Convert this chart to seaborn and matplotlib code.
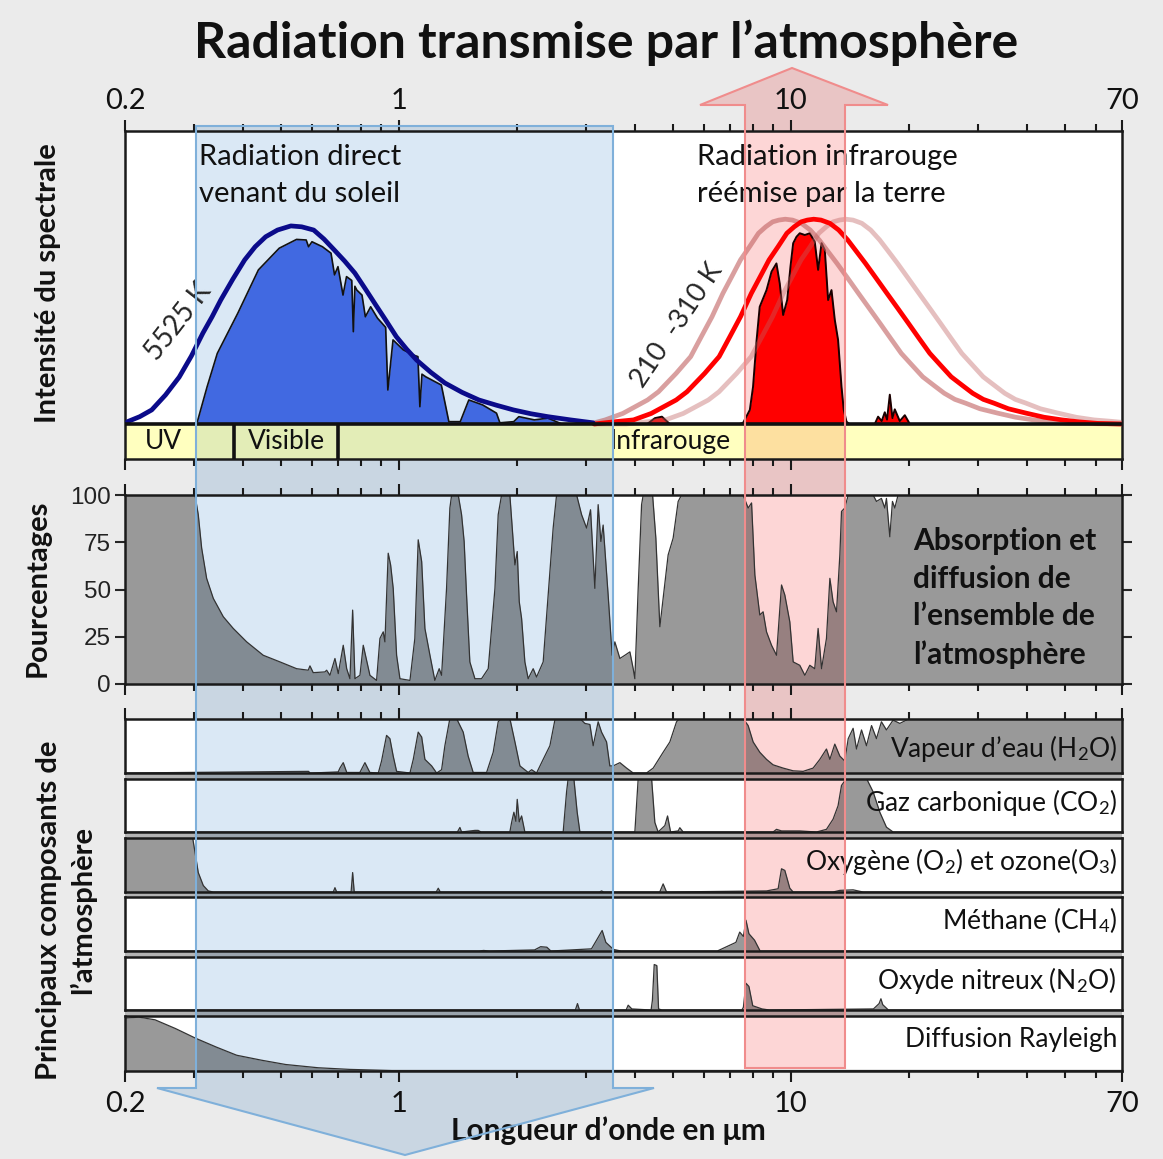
import numpy as np
import matplotlib
matplotlib.use("Agg")
import matplotlib.pyplot as plt
import seaborn as sns
from matplotlib.patches import Polygon, Rectangle
from matplotlib.ticker import FixedLocator, FixedFormatter, LogLocator, NullFormatter

# ---------------- data (wavelength in micrometres) ----------------
tick_values = [0.2, 1, 10, 70]
tick_labels = ["0.2", "1", "10", "70"]

# solar black body 5525 K (arbitrary intensity)
sun_bb_wl = [0.203, 0.2181, 0.234, 0.2537, 0.275, 0.2954, 0.316, 0.3336, 0.351, 0.3767,
             0.404, 0.4297, 0.457, 0.490, 0.530, 0.5647, 0.606, 0.644, 0.684, 0.727,
             0.772, 0.821, 0.873, 0.928, 0.985, 1.047, 1.11, 1.207, 1.31, 1.449,
             1.60, 1.774, 1.96, 2.171, 2.40, 2.74, 3.13]
sun_bb_val = [0.008, 0.025, 0.048, 0.099, 0.16, 0.232, 0.31, 0.366, 0.423, 0.494,
              0.56, 0.605, 0.639, 0.662, 0.676, 0.673, 0.662, 0.631, 0.594, 0.556,
              0.515, 0.461, 0.406, 0.352, 0.298, 0.255, 0.218, 0.176, 0.14, 0.108,
              0.082, 0.064, 0.048, 0.035, 0.025, 0.014, 0.004]

# sunlight transmitted through the atmosphere
sun_tr_wl = [0.300, 0.306, 0.324, 0.344, 0.388, 0.438, 0.495, 0.548, 0.580, 0.588,
             0.600, 0.638, 0.671, 0.685, 0.699, 0.720, 0.735, 0.758, 0.765, 0.772,
             0.781, 0.805, 0.821, 0.847, 0.882, 0.925, 0.937, 0.966, 1.026, 1.091,
             1.118, 1.131, 1.145, 1.171, 1.283, 1.341, 1.434, 1.508, 1.636, 1.774,
             1.810, 1.963, 2.023, 2.217, 2.40, 2.606]
sun_tr_val = [0.0, 0.008, 0.127, 0.241, 0.378, 0.526, 0.60, 0.630, 0.628, 0.605,
              0.622, 0.605, 0.583, 0.509, 0.537, 0.44, 0.503, 0.49, 0.315, 0.47,
              0.457, 0.44, 0.366, 0.40, 0.361, 0.33, 0.116, 0.287, 0.253, 0.235,
              0.23, 0.059, 0.17, 0.161, 0.133, 0.008, 0.008, 0.082, 0.065, 0.037,
              0.004, 0.008, 0.025, 0.014, 0.02, 0.0]

# terrestrial black bodies: 255 K (red), 310 K and 210 K (pink)
ir_bb_wl = [3.15, 3.572, 3.97, 4.405, 5.10, 5.433, 6.03, 6.564, 6.99, 7.44, 7.93, 8.355,
            8.80, 9.276, 9.77, 10.20, 10.63, 11.02, 11.44, 11.94, 12.58, 13.25, 13.97,
            14.72, 15.51, 16.52, 17.59, 18.74, 19.95, 21.25, 22.63, 24.09, 25.66, 27.32,
            29.11, 30.99, 33.01, 35.90, 39.86, 44.29, 49.15, 54.6, 60.67, 69.5]
ir_bb_val = [0.0, 0.008, 0.014, 0.036, 0.082, 0.110, 0.173, 0.230, 0.298, 0.366, 0.446, 0.503,
             0.56, 0.605, 0.651, 0.673, 0.690, 0.696, 0.699, 0.696, 0.685, 0.662, 0.628,
             0.588, 0.548, 0.497, 0.446, 0.395, 0.344, 0.292, 0.241, 0.201, 0.161, 0.133,
             0.105, 0.084, 0.071, 0.052, 0.037, 0.023, 0.014, 0.007, 0.002, 0.0]
ir_hot_wl = [3.15, 3.36, 3.727, 4.31, 4.596, 5.10, 5.553, 5.91, 6.294, 6.71, 7.068, 7.44,
             7.847, 8.27, 8.629, 8.99, 9.323, 9.68, 10.10, 10.64, 11.21, 11.82, 12.45,
             13.12, 13.98, 14.88, 15.85, 16.88, 17.98, 19.14, 20.38, 21.71, 23.11, 24.63,
             26.22, 27.93, 30.37, 33.72, 37.47, 41.58, 46.19, 51.33, 69.5]
ir_hot_val = [0.004, 0.014, 0.036, 0.082, 0.110, 0.173, 0.230, 0.298, 0.366, 0.446, 0.503, 0.56,
              0.605, 0.651, 0.673, 0.690, 0.696, 0.699, 0.696, 0.685, 0.662, 0.628, 0.588,
              0.548, 0.497, 0.446, 0.395, 0.344, 0.292, 0.241, 0.201, 0.161, 0.133, 0.105,
              0.084, 0.071, 0.052, 0.037, 0.023, 0.014, 0.007, 0.002, 0.0]
ir_cold_wl = [3.15, 3.80, 4.311, 4.79, 5.317, 6.16, 6.558, 7.28, 7.923, 8.44, 8.98, 9.57,
              10.08, 10.62, 11.20, 11.79, 12.31, 12.83, 13.30, 13.81, 14.41, 15.18, 15.99,
              16.86, 17.77, 18.72, 19.94, 21.23, 22.62, 24.08, 25.65, 27.31, 29.08, 30.97,
              32.98, 35.14, 37.40, 39.84, 43.33, 48.11, 53.46, 59.33, 65.9, 69.5]
ir_cold_val = [0.0, 0.0, 0.008, 0.014, 0.036, 0.082, 0.110, 0.173, 0.230, 0.298, 0.366, 0.446,
               0.503, 0.56, 0.605, 0.651, 0.673, 0.690, 0.696, 0.699, 0.696, 0.685, 0.662,
               0.628, 0.588, 0.548, 0.497, 0.446, 0.395, 0.344, 0.292, 0.241, 0.201, 0.161,
               0.133, 0.105, 0.084, 0.071, 0.052, 0.037, 0.023, 0.014, 0.009, 0.006]

# infrared escaping to space
ir_tr_wl = [4.30, 4.50, 4.69, 4.91, 7.40, 7.555, 7.86, 8.01, 8.18, 8.33, 8.67, 8.93, 9.19,
            9.37, 9.56, 9.79, 9.98, 10.14, 10.34, 10.54, 10.86, 11.18, 11.51, 11.74, 11.98,
            12.21, 12.45, 12.70, 12.95, 13.20, 13.47, 13.65, 13.87, 14.1, 16.38, 16.7, 17.06,
            17.37, 17.6, 17.89, 18.17, 18.42, 18.97, 19.54, 20.12]
ir_tr_val = [0.0, 0.02, 0.025, 0.0, 0.0, 0.004, 0.048, 0.127, 0.287, 0.40, 0.457, 0.52, 0.548,
             0.48, 0.372, 0.423, 0.537, 0.617, 0.639, 0.651, 0.645, 0.651, 0.622, 0.526, 0.617,
             0.594, 0.423, 0.457, 0.355, 0.287, 0.127, 0.048, 0.008, 0.0, 0.0, 0.025, 0.01,
             0.04, 0.015, 0.10, 0.02, 0.05, 0.01, 0.03, 0.0]

# total absorption + scattering (%)
abs_wl = [0.2, 0.3017, 0.3076, 0.3138, 0.3231, 0.336, 0.3563, 0.3778, 0.4088, 0.4506,
          0.497, 0.5483, 0.5869, 0.5929, 0.6044, 0.6474, 0.654, 0.6668, 0.6867, 0.7002,
          0.721, 0.7357, 0.7499, 0.7619, 0.7723, 0.7953, 0.8109, 0.8434, 0.877, 0.8944,
          0.912, 0.921, 0.939, 0.9524, 0.967, 0.9865, 1.006, 1.067, 1.098, 1.120,
          1.143, 1.165, 1.200, 1.235, 1.267, 1.285, 1.323, 1.349, 1.363, 1.417,
          1.445, 1.467, 1.488, 1.517, 1.563, 1.625, 1.690, 1.758, 1.792, 1.828,
          1.919, 1.977, 2.004, 2.028, 2.056, 2.096, 2.137, 2.201, 2.245, 2.334,
          2.404, 2.475, 2.525, 2.841, 2.925, 3.012, 3.083, 3.162, 3.224, 3.276,
          3.320, 3.419, 3.500, 3.556, 3.663, 3.772, 3.885, 3.961, 4.000, 4.079,
          4.161, 4.201, 4.439, 4.525, 4.633, 4.723, 4.864, 5.009, 5.159, 5.263,
          7.555, 7.783, 7.940, 8.096, 8.177, 8.335, 8.498, 8.670, 8.929, 9.195,
          9.469, 9.654, 9.941, 10.14, 10.54, 10.86, 11.18, 11.51, 11.74, 11.98,
          12.33, 12.58, 12.82, 13.08, 13.34, 13.47, 13.73, 14.01, 16.22, 16.54,
          17.03, 17.37, 17.54, 17.89, 18.17, 18.42, 18.78, 70]
abs_pct = [100, 100, 89.6, 71.9, 55.9, 45.3, 35.6, 29.4, 22.3, 15.2,
           11.7, 8.1, 7.3, 9.6, 6.0, 6.4, 7.3, 4.6, 13.5, 5.5,
           20.5, 8.1, 2.8, 39.1, 2.8, 4.6, 20.5, 4.6, 1.9, 24.1,
           27.6, 22.3, 69.2, 63, 50.6, 15.2, 2.8, 1.9, 24.1, 76.3,
           64.8, 29.4, 15.2, 1.9, 8.1, 4.6, 50.6, 93.1, 100, 100,
           89.6, 75.4, 47.1, 11.7, 2.8, 2.8, 8.1, 50.6, 89.6, 100,
           100, 63, 70.1, 43.5, 34.7, 11.7, 2.8, 8.1, 3.7, 11.7,
           47.1, 82.5, 100, 100, 89.6, 82.5, 92.2, 50.6, 94.9, 75.4,
           84.1, 47.1, 15.2, 22.3, 13.5, 15.2, 17, 8.1, 2.8, 50.6,
           94.9, 100, 100, 77.2, 30.3, 45.3, 68.3, 77.2, 96.6, 100,
           100, 93.1, 95.8, 57.7, 50.6, 36.5, 38.2, 27.6, 20.5, 15.2,
           52.4, 47.1, 32.9, 11.7, 9.9, 4.6, 9.9, 8.1, 29.4, 8.1,
           24.1, 55.9, 43.5, 38.2, 68.3, 91.3, 93.1, 100, 100, 96.6,
           98.2, 93.1, 98.2, 77.9, 96.6, 93.1, 100, 100]

# main constituents (relative absorption 0..1)
h2o_wl = [0.2, 0.588, 0.593, 0.60, 0.70, 0.707, 0.721, 0.736, 0.795, 0.819, 0.843, 0.886,
          0.903, 0.930, 0.9485, 0.967, 0.9865, 1.067, 1.088, 1.120, 1.143, 1.165, 1.212,
          1.248, 1.285, 1.310, 1.349, 1.403, 1.459, 1.502, 1.547, 1.674, 1.740, 1.792,
          1.828, 1.919, 1.977, 2.036, 2.137, 2.181, 2.245, 2.334, 2.428, 2.500, 2.574,
          2.896, 2.982, 3.071, 3.131, 3.224, 3.289, 3.387, 3.453, 3.521, 3.663, 3.810,
          3.961, 4.284, 4.455, 4.723, 4.913, 5.110, 5.210, 7.555, 7.783, 8.014, 8.335,
          8.670, 9.012, 9.559, 10.14, 10.75, 11.40, 11.86, 12.33, 12.58, 12.95, 13.34,
          13.73, 14.01, 14.42, 14.71, 15.15, 15.60, 16.07, 16.54, 17.03, 17.54, 18.24,
          18.97, 20.12, 70]
h2o_val = [0, 0.03, 0, 0, 0.02, 0.09, 0.19, 0.01, 0.01, 0.19, 0.01, 0,
           0.22, 0.69, 0.63, 0.31, 0.03, 0, 0.25, 0.75, 0.66, 0.25, 0.13,
           0, 0.06, 0.5, 1, 1, 0.75, 0.31, 0.01, 0.01, 0.38, 0.94,
           1, 1, 0.57, 0.13, 0.01, 0.06, 0, 0.25, 0.5, 0.97, 1,
           1, 0.91, 0.89, 0.5, 0.94, 0.75, 0.57, 0.13, 0.13, 0.19, 0.09,
           0, 0, 0.09, 0.38, 0.57, 0.94, 1, 1, 0.87, 0.57, 0.38,
           0.25, 0.15, 0.09, 0.04, 0.03, 0.09, 0.25, 0.44, 0.25, 0.53, 0.31,
           0.22, 0.63, 0.82, 0.44, 0.79, 0.5, 0.87, 0.63, 0.94, 0.79, 0.97,
           0.91, 1, 1]
co2_wl = [0.2, 1.41, 1.431, 1.445, 1.563, 1.593, 1.62, 1.919, 1.939, 1.965, 1.988, 2.004,
          2.028, 2.056, 2.096, 2.625, 2.678, 2.703, 2.795, 2.850, 2.896, 4.000, 4.079, 4.413,
          4.498, 4.586, 4.771, 4.847, 4.934, 5.159, 5.210, 5.313, 9.012, 9.195, 9.469, 10.14,
          10.54, 11.63, 12.33, 12.82, 13.20, 13.47, 13.87, 15.60, 16.22, 16.87, 17.54, 18.24, 70]
co2_val = [0, 0, 0.085, 0, 0.03, 0.03, 0, 0, 0.18, 0.37, 0.2, 0.61,
           0.19, 0.3, 0, 0, 0.75, 1.0, 1.0, 0.37, 0, 0, 1.0, 1.0,
           0.18, 0, 0.12, 0.3, 0, 0.02, 0.08, 0, 0, 0.05, 0.02, 0.02,
           0.02, 0, 0.05, 0.24, 0.49, 0.87, 1.0, 1.0, 0.75, 0.37, 0.09, 0, 0]
o2_wl = [0.2, 0.2977, 0.3017, 0.3076, 0.3168, 0.3262, 0.336, 0.68, 0.6867, 0.6936, 0.755,
         0.7619, 0.769, 1.245, 1.260, 1.275, 3.25, 3.289, 3.33, 4.63, 4.723, 4.818, 8.670,
         9.282, 9.469, 9.654, 9.941, 10.14, 12.82, 13.34, 14.42, 15.29, 70]
o2_val = [1.0, 1.0, 0.74, 0.36, 0.12, 0.02, 0, 0, 0.08, 0, 0,
          0.36, 0, 0, 0.07, 0, 0, 0.02, 0, 0, 0.15, 0, 0.02,
          0.06, 0.43, 0.40, 0.07, 0, 0, 0.03, 0.04, 0, 0]
ch4_wl = [0.2, 1.60, 1.645, 1.70, 2.219, 2.300, 2.385, 2.442, 3.10, 3.194, 3.301, 3.373,
          3.526, 3.685, 6.494, 7.244, 7.407, 7.568, 7.684, 7.818, 8.081, 8.350, 70]
ch4_val = [0, 0, 0.01, 0, 0.02, 0.08, 0.07, 0, 0.04, 0.2, 0.38, 0.16,
           0.03, 0, 0, 0.16, 0.35, 0.27, 0.57, 0.32, 0.2, 0, 0]
n2o_wl = [0.2, 2.820, 2.855, 2.889, 3.80, 3.846, 3.930, 4.40, 4.434, 4.482, 4.551, 4.598,
          4.688, 7.50, 7.568, 7.684, 7.818, 7.995, 8.443, 8.818, 16.25, 16.80, 16.98, 17.16,
          17.74, 70]
n2o_val = [0, 0, 0.12, 0, 0, 0.09, 0.02, 0, 0.18, 0.85, 0.83, 0.02,
           0, 0, 0.05, 0.5, 0.44, 0.08, 0.02, 0, 0.02, 0.12, 0.21, 0.1,
           0, 0]
ray_wl = [0.2, 0.2169, 0.2386, 0.2690, 0.3033, 0.3419, 0.3855, 0.4451, 0.514, 0.6228,
          0.7499, 0.9585, 70]
ray_val = [0.96, 0.98, 0.93, 0.77, 0.59, 0.43, 0.28, 0.19, 0.11, 0.05, 0.02, 0.0, 0.0]

gas_labels = ["Vapeur d’eau (H$_2$O)", "Gaz carbonique (CO$_2$)",
              "Oxygène (O$_2$) et ozone(O$_3$)", "Méthane (CH$_4$)",
              "Oxyde nitreux (N$_2$O)", "Diffusion Rayleigh"]
gas_series = [(h2o_wl, h2o_val), (co2_wl, co2_val), (o2_wl, o2_val),
              (ch4_wl, ch4_val), (n2o_wl, n2o_val), (ray_wl, ray_val)]
gas_label_y = [0.45, 0.55, 0.56, 0.57, 0.56, 0.56]

band_edges = [0.38, 0.70]
band_names = ["UV", "Visible", "Infrarouge"]
band_label_x = [0.25, 0.518, 4.91]

# ---------------- layout (pixel geometry of the reference) ----------------
W, H = 1163, 1159


def fig_rect(x0, y0, x1, y1):
    return [x0 / W, 1 - y1 / H, (x1 - x0) / W, (y1 - y0) / H]


def fig_pt(x, y):
    return (x / W, 1 - y / H)


blue_shape = [(196, 126), (613, 126), (613, 1088), (654, 1088), (405, 1155), (157, 1088), (196, 1088)]
red_shape = [(745, 1068), (745, 105), (700, 105), (792, 68), (888, 105), (845, 105), (845, 1068)]


def shape_patch(pts, **kw):
    return Polygon([fig_pt(x, y) for x, y in pts], closed=True, transform=fig.transFigure, **kw)


sns.set_theme(style="white")
plt.rcParams["font.family"] = ["Lato", "DejaVu Sans"]
plt.rcParams["mathtext.fontset"] = "custom"
plt.rcParams["mathtext.rm"] = "Lato"
plt.rcParams["mathtext.it"] = "Lato:italic"
plt.rcParams["mathtext.bf"] = "Lato:bold"
plt.rcParams["axes.edgecolor"] = "#1a1a1a"
plt.rcParams["axes.linewidth"] = 1.8

fig = plt.figure(figsize=(W / 100, H / 100), dpi=100, facecolor="#ebebeb")

ax1 = fig.add_axes(fig_rect(125, 131, 1122, 459))
ax2 = fig.add_axes(fig_rect(125, 495, 1122, 684))
sub_px = [(718.5, 773), (778.5, 832), (838, 892), (897, 951), (956.5, 1010), (1016, 1070.5)]
subs = [fig.add_axes(fig_rect(125, t, 1122, b)) for t, b in sub_px]
all_axes = [ax1, ax2] + subs

# overlays (behind axes on the grey background, and inside each white panel)
fig.add_artist(shape_patch(blue_shape, facecolor="#c9d6e2", edgecolor="none", zorder=-2))
fig.add_artist(shape_patch(red_shape, facecolor="#e9c5c5", edgecolor="none", zorder=-2))
for (t0, b0), (t1, b1) in zip(sub_px[:-1], sub_px[1:]):
    fig.add_artist(Rectangle(fig_pt(125, t1), 997 / W, (t1 - b0) / H, transform=fig.transFigure,
                             facecolor="black", alpha=0.23, edgecolor="none", zorder=-1))

for ax in all_axes:
    ax.set_facecolor("white")
    ax.add_patch(shape_patch(blue_shape, facecolor="#dae8f5", edgecolor="none", zorder=0.3))
    ax.add_patch(shape_patch(red_shape, facecolor="#fdd6d6", edgecolor="none", zorder=0.3))
    ax.set_xscale("log")
    ax.xaxis.set_major_locator(FixedLocator(tick_values))
    ax.xaxis.set_major_formatter(FixedFormatter(tick_labels))
    ax.xaxis.set_minor_locator(LogLocator(base=10, subs=np.arange(2, 10)))
    ax.xaxis.set_minor_formatter(NullFormatter())
    ax.tick_params(axis="x", which="both", top=False, bottom=False, labeltop=False,
                   labelbottom=False, direction="out", width=1.5, color="#1a1a1a")
    ax.tick_params(axis="x", which="major", length=8, labelsize=21, labelcolor="#111111")
    ax.tick_params(axis="x", which="minor", length=5)

# ---------------- panel 1: spectral intensity ----------------
y_band = -0.1195
ax1.fill_between([0.2, 70], y_band, 0, color="yellow", alpha=0.25, lw=0, zorder=1)
ax1.fill_between(sun_tr_wl, 0, sun_tr_val, color="#4169e1", lw=0, zorder=2)
sns.lineplot(x=sun_tr_wl, y=sun_tr_val, ax=ax1, color="#111111", lw=1.2,
             estimator=None, sort=False, zorder=3)
ax1.fill_between(ir_tr_wl, 0, ir_tr_val, color="#ff0000", lw=0, zorder=2)
sns.lineplot(x=ir_tr_wl, y=ir_tr_val, ax=ax1, color="#1a0000", lw=1.4,
             estimator=None, sort=False, zorder=3)
sns.lineplot(x=ir_hot_wl, y=ir_hot_val, ax=ax1, color="#c06060", alpha=0.6, lw=3.4,
             estimator=None, sort=False, zorder=4)
sns.lineplot(x=ir_cold_wl, y=ir_cold_val, ax=ax1, color="#c06060", alpha=0.4, lw=3.4,
             estimator=None, sort=False, zorder=4)
sns.lineplot(x=ir_bb_wl, y=ir_bb_val, ax=ax1, color="#ff0000", lw=3.4,
             estimator=None, sort=False, zorder=5)
sns.lineplot(x=sun_bb_wl, y=sun_bb_val, ax=ax1, color="#0b0b8a", lw=3.4,
             estimator=None, sort=False, zorder=5)
ax1.axhline(0, color="#111111", lw=2.6, zorder=6)
ax1.vlines(band_edges, y_band, 0, colors="#111111", lw=2.6, zorder=6)
for name, bx in zip(band_names, band_label_x):
    ax1.text(bx, y_band / 2, name, ha="center", va="center", fontsize=19, color="#111111", zorder=7)
ax1.set_xlim(0.2, 70)
ax1.set_ylim(y_band, 1.0)
ax1.set_yticks([])
ax1.set_xlabel("")
ax1.set_ylabel("")
ax1.tick_params(axis="x", which="both", top=True, bottom=True, labeltop=True)
ax1.tick_params(axis="x", which="major", pad=4)

ax1.text(0.309, 0.955, "Radiation direct\nvenant du soleil", ha="left", va="top",
         fontsize=21, linespacing=1.5, color="#111111", zorder=7)
ax1.text(5.76, 0.955, "Radiation infrarouge\nréémise par la terre", ha="left", va="top",
         fontsize=21, linespacing=1.5, color="#111111", zorder=7)
ax1.text(0.273, 0.348, "5525 K", rotation=52, ha="center", va="center", fontsize=20, zorder=7)
ax1.text(5.12, 0.338, "210  -310 K", rotation=56, ha="center", va="center", fontsize=19.5, zorder=7)

# ---------------- panel 2: absorption percentages ----------------
ax2.fill_between(abs_wl, 0, abs_pct, color="black", alpha=0.4, lw=0, zorder=1)
sns.lineplot(x=abs_wl, y=abs_pct, ax=ax2, color="#333333", lw=0.9,
             estimator=None, sort=False, zorder=2)
ax2.set_xlim(0.2, 70)
ax2.set_ylim(0, 100)
ax2.set_yticks([0, 25, 50, 75, 100])
ax2.set_xlabel("")
ax2.set_ylabel("")
ax2.tick_params(axis="x", which="both", top=True, bottom=True)
ax2.tick_params(axis="y", left=True, right=True, labelleft=True, direction="out",
                length=7, width=1.5, labelsize=17.5, labelcolor="#222222", pad=3)
for lbl in ax2.get_yticklabels():
    lbl.set_fontfamily(["Liberation Sans", "DejaVu Sans"])
ax2.text(20.5, 45.5, "Absorption et\ndiffusion de\nl’ensemble de\nl’atmosphère", ha="left",
         va="center", fontsize=21.5, fontweight="bold", linespacing=1.42, color="#111111", zorder=5)

# ---------------- panel 3: constituents ----------------
for ax, (wl, val), label, ly in zip(subs, gas_series, gas_labels, gas_label_y):
    ax.fill_between(wl, 0, val, color="black", alpha=0.4, lw=0, zorder=1)
    sns.lineplot(x=wl, y=val, ax=ax, color="#333333", lw=0.9, estimator=None, sort=False, zorder=2)
    ax.set_xlim(0.2, 70)
    ax.set_ylim(0, 1.0)
    ax.set_yticks([])
    ax.set_xlabel("")
    ax.set_ylabel("")
    ax.text(0.995, ly, label, transform=ax.transAxes, ha="right", va="center",
            fontsize=19, color="#111111", zorder=5)
subs[0].tick_params(axis="x", which="both", top=True)
subs[-1].tick_params(axis="x", which="both", bottom=True, labelbottom=True)
subs[-1].tick_params(axis="x", which="major", pad=7)

# overlay outlines on top
fig.add_artist(shape_patch(blue_shape, facecolor="none", edgecolor="#7fb0da", lw=1.5, zorder=10))
fig.add_artist(shape_patch(red_shape, facecolor="none", edgecolor="#f08c8c", lw=1.5, zorder=10))

# ---------------- titles and axis labels ----------------
fig.text(606 / W, 1 - 43 / H, "Radiation transmise par l’atmosphère", ha="center", va="center",
         fontsize=36, fontweight="bold", color="#111111")
fig.text(48 / W, 1 - 283 / H, "Intensité du spectrale", rotation=90, ha="center", va="center",
         fontsize=21, fontweight="bold", color="#111111")
fig.text(38 / W, 1 - 588 / H, "Pourcentages", rotation=90, ha="center", va="center",
         fontsize=21, fontweight="bold", color="#111111")
fig.text(66 / W, 1 - 910 / H, "Principaux composants de\nl’atmosphère", rotation=90,
         ha="center", va="center", fontsize=21, fontweight="bold", linespacing=1.3, color="#111111")
fig.text(608 / W, 1 - 1131 / H, "Longueur d’onde en μm", ha="center", va="center",
         fontsize=21.5, fontweight="bold", color="#111111")

fig.savefig("out.png", dpi=100, facecolor=fig.get_facecolor())
